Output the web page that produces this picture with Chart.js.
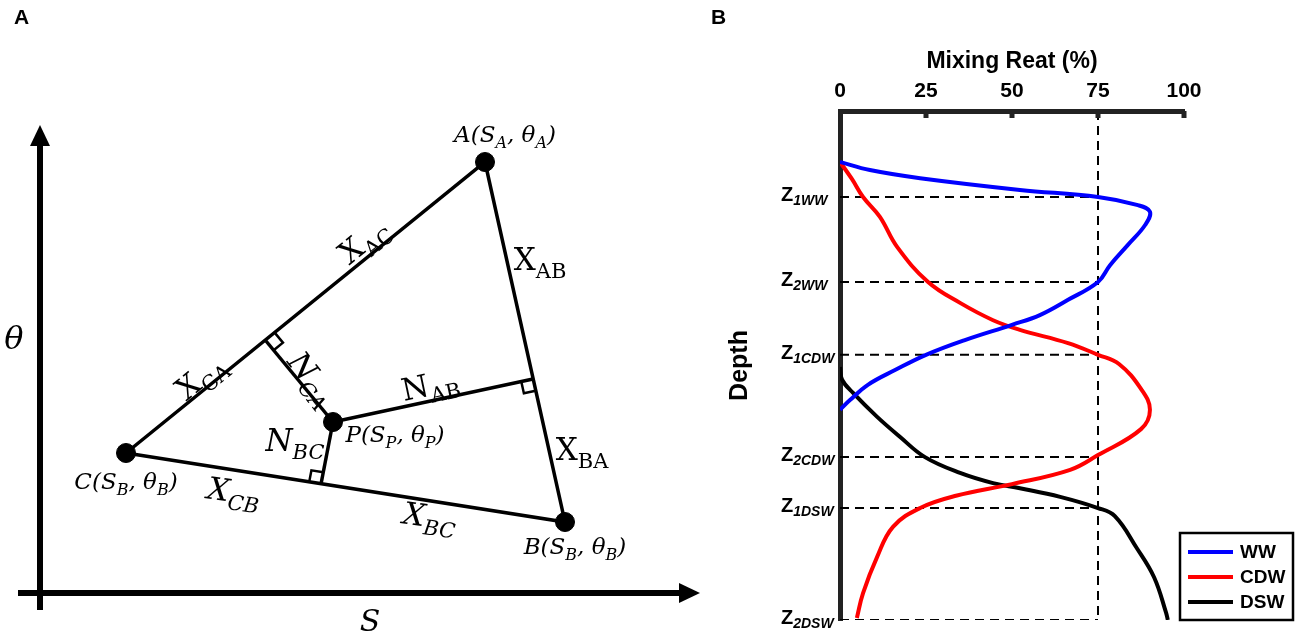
<!DOCTYPE html>
<html>
<head>
<meta charset="utf-8">
<script src="https://cdn.jsdelivr.net/npm/chart.js@4.4.1/dist/chart.umd.min.js"></script>
<style>
  html, body { margin: 0; padding: 0; background: #fff; width: 1299px; height: 638px; overflow: hidden; }
  canvas { position: absolute; top: 0; }
</style>
</head>
<body>
<canvas id="panelA" width="720" height="638" style="left:0;width:720px;height:638px"></canvas>
<canvas id="panelB" width="609" height="638" style="left:690px;width:609px;height:638px"></canvas>
<script>
// --- Panel A: triangle of mixing in the (S, θ) plane ---
const vertexNames = ['A', 'B', 'C', 'P'];
const vertexS = [485, 565, 126, 333];
const vertexTheta = [476, 116, 185, 216];

// feet of the perpendiculars from P on each side
const footSides = ['CA', 'AB', 'CB'];
const footS = [266, 533, 321];
const footTheta = [297, 259, 154];
const footToward = ['A', 'B', 'C'];

const sideOrder = ['C', 'A', 'B', 'C'];

const axisOrigin = [40, 45];
const axisS = [18, 700];
const axisTheta = [28, 513];

// text, '|' switches between normal and subscript
const pointLabels = ['A(S|A|, θ|A|)', 'B(S|B|, θ|B|)', 'C(S|B|, θ|B|)', 'P(S|P|, θ|P|)'];
const sideLabels = ['X|AC', 'X|CA', 'X|AB', 'X|BA', 'X|CB', 'X|BC', 'N|CA', 'N|AB', 'N|BC'];

// --- Panel B: mixing ratio vs depth ---
const mixTicks = [0, 25, 50, 75, 100];
const zNames = ['1WW', '2WW', '1CDW', '2CDW', '1DSW', '2DSW'];
const zDepth = [16.9, 33.6, 47.9, 68.0, 78.0, 100];
const refMix = 75;

const seriesNames = ['WW', 'CDW', 'DSW'];
const seriesColors = ['#0000ff', '#ff0000', '#000000'];

const wwMix = [0, 8.7, 23.3, 52.3, 75, 86.6, 90.1, 88.7, 83.7, 78.5, 75, 66.3, 58.1, 50, 36.3, 25, 16, 8.1, 2.9, 0];
const wwDepth = [10.0, 11.6, 13.2, 15.5, 16.9, 18.5, 19.8, 22.4, 26.3, 30.3, 33.6, 37.1, 40.1, 42.0, 45.0, 47.9, 50.9, 53.8, 56.8, 58.7];

const cdwMix = [0, 3.5, 6.7, 11.6, 16.6, 25.6, 34.9, 44.5, 52.3, 66.3, 75, 81.1, 87.5, 90.1, 87.5, 75, 66.9, 50, 33.7, 23.3, 15.4, 10.8, 6.7, 4.9];
const cdwDepth = [10.0, 13.4, 16.9, 20.8, 26.7, 33.6, 37.7, 41.1, 43.0, 45.6, 47.9, 49.7, 54.6, 58.7, 62.5, 67.6, 70.5, 73.3, 75.6, 78.0, 81.7, 87.6, 94.7, 99.6];

const dswMix = [0, 0.6, 3.8, 10.8, 17.4, 24.7, 34.9, 44.5, 52.3, 64, 75, 79.9, 86.3, 91.3, 94.8, 95.3];
const dswDepth = [50.3, 52.8, 55.4, 60.1, 64.0, 68.0, 71.1, 73.1, 74.1, 75.8, 78.0, 79.6, 85.9, 91.6, 98.6, 100];

const SANS = '"Liberation Sans", Arial, sans-serif';
const SERIF = '"DejaVu Serif", serif';

function richText(ctx, str, x, y, size, italic, rot) {
    const parts = str.split('|');
    const st = italic ? 'italic ' : '';
    const mainF = st + size + 'px ' + SERIF;
    const subF = st + Math.round(size * 0.68) + 'px ' + SERIF;
    let w = 0;
    parts.forEach((t, i) => { ctx.font = i % 2 ? subF : mainF; w += ctx.measureText(t).width; });
    ctx.save();
    ctx.translate(x, y);
    ctx.rotate(rot * Math.PI / 180);
    ctx.textAlign = 'left';
    ctx.textBaseline = 'alphabetic';
    let cx = -w / 2;
    const base = size * 0.36;
    parts.forEach((t, i) => {
        ctx.font = i % 2 ? subF : mainF;
        ctx.fillText(t, cx, i % 2 ? base + size * 0.25 : base);
        cx += ctx.measureText(t).width;
    });
    ctx.restore();
}

function arrow(ctx, x1, y1, x2, y2) {
    const a = Math.atan2(y2 - y1, x2 - x1);
    const head = 21, half = 10;
    const bx = x2 - head * Math.cos(a), by = y2 - head * Math.sin(a);
    ctx.lineWidth = 6;
    ctx.beginPath(); ctx.moveTo(x1, y1); ctx.lineTo(bx, by); ctx.stroke();
    ctx.beginPath();
    ctx.moveTo(x2, y2);
    ctx.lineTo(bx + half * Math.sin(a), by - half * Math.cos(a));
    ctx.lineTo(bx - half * Math.sin(a), by + half * Math.cos(a));
    ctx.closePath(); ctx.fill();
}

const vtx = n => { const i = vertexNames.indexOf(n); return { x: vertexS[i], y: vertexTheta[i] }; };

// label placement (pixels)
const pointLabelPos = [[505, 134], [575, 546], [126, 481], [395, 434]];
const sideLabelPos = [
    { x: 363, y: 240, rot: -39, it: false },
    { x: 200, y: 376, rot: -39, it: false },
    { x: 540, y: 259, rot: 0, it: false },
    { x: 582, y: 449, rot: 0, it: false },
    { x: 234, y: 491, rot: 8, it: true },
    { x: 430, y: 516, rot: 8, it: true },
    { x: 313, y: 378, rot: 52, it: true },
    { x: 430, y: 384, rot: -12, it: false },
    { x: 295, y: 440, rot: 0, it: true }
];

const diagramPlugin = {
    id: 'diagram',
    afterDatasetsDraw(chart) {
        const { ctx, scales: { x, y } } = chart;
        const px = p => ({ x: x.getPixelForValue(p.x), y: y.getPixelForValue(p.y) });
        ctx.save();
        ctx.fillStyle = '#000';
        ctx.strokeStyle = '#000';

        // axes with arrows
        const ox = x.getPixelForValue(axisOrigin[0]), oy = y.getPixelForValue(axisOrigin[1]);
        arrow(ctx, x.getPixelForValue(axisS[0]), oy, x.getPixelForValue(axisS[1]), oy);
        arrow(ctx, ox, y.getPixelForValue(axisTheta[0]), ox, y.getPixelForValue(axisTheta[1]));

        // right angle marks
        const P = px(vtx('P'));
        ctx.lineWidth = 2.5;
        footSides.forEach((s, i) => {
            const f = px({ x: footS[i], y: footTheta[i] });
            const t = px(vtx(footToward[i]));
            const lu = Math.hypot(P.x - f.x, P.y - f.y), lv = Math.hypot(t.x - f.x, t.y - f.y);
            const u = { x: (P.x - f.x) / lu, y: (P.y - f.y) / lu };
            const v = { x: (t.x - f.x) / lv, y: (t.y - f.y) / lv };
            const k = 12;
            ctx.beginPath();
            ctx.moveTo(f.x + u.x * k, f.y + u.y * k);
            ctx.lineTo(f.x + (u.x + v.x) * k, f.y + (u.y + v.y) * k);
            ctx.lineTo(f.x + v.x * k, f.y + v.y * k);
            ctx.stroke();
        });

        // labels
        pointLabels.forEach((t, i) => richText(ctx, t, pointLabelPos[i][0], pointLabelPos[i][1], 23, true, 0));
        sideLabels.forEach((t, i) => {
            const l = sideLabelPos[i];
            richText(ctx, t, l.x, l.y, 31, l.it, l.rot);
        });
        richText(ctx, 'θ', 14, 337, 32, true, 0);
        richText(ctx, 'S', 370, 620, 30, true, 0);

        ctx.font = 'bold 21px ' + SANS;
        ctx.textAlign = 'left';
        ctx.textBaseline = 'alphabetic';
        ctx.fillText('A', 14, 24);
        ctx.restore();
    }
};

new Chart(document.getElementById('panelA'), {
    type: 'scatter',
    data: {
        datasets: [
            { data: sideOrder.map(vtx), showLine: true, borderColor: '#000', borderWidth: 3.5, pointRadius: 0 },
            ...footSides.map((s, i) => ({
                data: [vtx('P'), { x: footS[i], y: footTheta[i] }],
                showLine: true, borderColor: '#000', borderWidth: 3.5, pointRadius: 0
            })),
            { data: vertexNames.map(vtx), showLine: false, pointRadius: 9.5, backgroundColor: '#000', borderColor: '#000' }
        ]
    },
    options: {
        responsive: false,
        animation: false,
        events: [],
        layout: { padding: 0, autoPadding: false },
        plugins: { legend: { display: false }, tooltip: { enabled: false } },
        scales: {
            x: { type: 'linear', display: false, min: 0, max: 720 },
            y: { type: 'linear', display: false, min: 0, max: 638 }
        }
    },
    plugins: [diagramPlugin]
});

// --- Panel B ---
const profile = (label, xs, ys, color) => ({
    label,
    data: xs.map((v, i) => ({ x: v, y: ys[i] })),
    showLine: true,
    borderColor: color,
    backgroundColor: color,
    borderWidth: 4,
    pointRadius: 0,
    tension: 0.4,
    order: 0
});

const dashed = pts => ({
    label: '',
    data: pts,
    showLine: true,
    borderColor: '#000',
    borderWidth: 2,
    borderDash: [9, 6],
    pointRadius: 0,
    order: 1
});

const profilePlugin = {
    id: 'profileExtras',
    afterDraw(chart) {
        const { ctx, chartArea, scales: { x, y } } = chart;
        ctx.save();
        ctx.fillStyle = '#222';
        // tick marks pointing into the plot
        mixTicks.slice(1).forEach(t => {
            const p = x.getPixelForValue(t);
            ctx.fillRect(p - 2.5, chartArea.top, 5, 7);
        });

        // depth labels
        ctx.fillStyle = '#000';
        ctx.textAlign = 'left';
        ctx.textBaseline = 'alphabetic';
        zDepth.forEach((z, i) => {
            const p = y.getPixelForValue(z);
            ctx.font = 'bold 20px ' + SANS;
            ctx.fillText('Z', 91, p + 4);
            const w = ctx.measureText('Z').width;
            ctx.font = 'italic bold 14px ' + SANS;
            ctx.fillText(zNames[i], 91 + w, p + 8);
        });

        // legend
        ctx.lineWidth = 2.5;
        ctx.strokeStyle = '#000';
        ctx.strokeRect(490, 533, 113, 87);
        ctx.font = 'bold 19px ' + SANS;
        ctx.textBaseline = 'middle';
        seriesNames.forEach((n, i) => {
            const ly = 552 + i * 25;
            ctx.strokeStyle = seriesColors[i];
            ctx.lineWidth = 4;
            ctx.beginPath(); ctx.moveTo(498, ly); ctx.lineTo(543, ly); ctx.stroke();
            ctx.fillText(n, 550, ly + 1);
        });

        ctx.font = 'bold 21px ' + SANS;
        ctx.textBaseline = 'alphabetic';
        ctx.fillText('B', 21, 24);
        ctx.restore();
    }
};

new Chart(document.getElementById('panelB'), {
    type: 'scatter',
    data: {
        datasets: [
            profile(seriesNames[0], wwMix, wwDepth, seriesColors[0]),
            profile(seriesNames[1], cdwMix, cdwDepth, seriesColors[1]),
            profile(seriesNames[2], dswMix, dswDepth, seriesColors[2]),
            ...zDepth.map(z => dashed([{ x: mixTicks[0], y: z }, { x: refMix, y: z }])),
            dashed([{ x: refMix, y: 0 }, { x: refMix, y: zDepth[zDepth.length - 1] }])
        ]
    },
    options: {
        responsive: false,
        animation: false,
        events: [],
        layout: { padding: { left: 0, top: 0, right: 115, bottom: 18 }, autoPadding: false },
        plugins: { legend: { display: false }, tooltip: { enabled: false } },
        scales: {
            x: {
                type: 'linear', position: 'top', min: 0, max: 100,
                ticks: { stepSize: 25, color: '#000', padding: 7, font: { family: SANS, size: 21, weight: 'bold' } },
                grid: { display: true, drawOnChartArea: false, drawTicks: false },
                border: { display: true, width: 5, color: '#222' },
                title: { display: true, text: 'Mixing Reat (%)', color: '#000', padding: { top: 48, bottom: 0 },
                         font: { family: SANS, size: 23, weight: 'bold' } },
                afterFit: s => { s.height = 111; }
            },
            y: {
                type: 'linear', position: 'left', min: 0, max: 100, reverse: true,
                ticks: { display: false },
                grid: { display: true, drawOnChartArea: false, drawTicks: false },
                border: { display: true, width: 5, color: '#222' },
                title: { display: true, text: 'Depth', color: '#000', padding: { top: 35, bottom: 0 },
                         font: { family: SANS, size: 25, weight: 'bold' } },
                afterFit: s => { s.width = 150; }
            }
        }
    },
    plugins: [profilePlugin]
});
</script>
</body>
</html>
